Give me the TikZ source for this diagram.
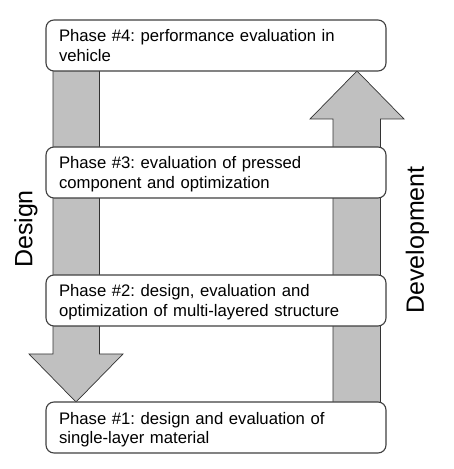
\documentclass[tikz,border=0pt]{standalone}
\usepackage{fontspec}
\setmainfont{Liberation Sans}
\usepackage{xcolor}
\usepackage{tikz}
\usetikzlibrary{positioning, calc}

\definecolor{arrowgray}{HTML}{C0C0C0}
\definecolor{edgegray}{HTML}{404040}

\begin{document}
\frenchspacing
\begin{tikzpicture}[x=1pt, y=1pt,
    phasebox/.style={draw=edgegray, line width=1.1pt, fill=white, rounded corners=8pt,
        text width=314pt, inner xsep=13pt, inner ysep=0pt, align=left,
        text height=22pt, text depth=29pt,
        font=\fontsize{16.7}{20}\selectfont},
    bigarrow/.style={draw=black!80, line width=0.7pt, fill=arrowgray},
    sidelabel/.style={rotate=90, inner sep=0pt, font=\fontsize{25}{28}\selectfont}]
    \useasboundingbox (0,0) rectangle (453,469);

    % Design arrow (down)
    \draw[bigarrow] (53,420) -- (99.5,420) -- (99.5,115) -- (123,115) -- (76,67)
        -- (29,115) -- (53,115) -- cycle;

    % Development arrow (up)
    \draw[bigarrow] (333,50) -- (380.5,50) -- (380.5,350) -- (404,350) -- (357,398)
        -- (310,350) -- (333,350) -- cycle;

    % Phases
    \node[phasebox] (phase4) at (216,423.5) {Phase \#4: performance evaluation in\\vehicle};
    \node[phasebox] (phase3) at (216,296.5) {Phase \#3: evaluation of pressed\\component and optimization};
    \node[phasebox] (phase2) at (216,168.5) {Phase \#2: design, evaluation and\\optimization of multi-layered structure};
    \node[phasebox] (phase1) at (216,41.5) {Phase \#1: design and evaluation of\\single-layer material};

    % Side labels
    \node[sidelabel] (design) at (26,240) {Design};
    \node[sidelabel] (development) at (417.5,229) {Development};
\end{tikzpicture}
\end{document}
